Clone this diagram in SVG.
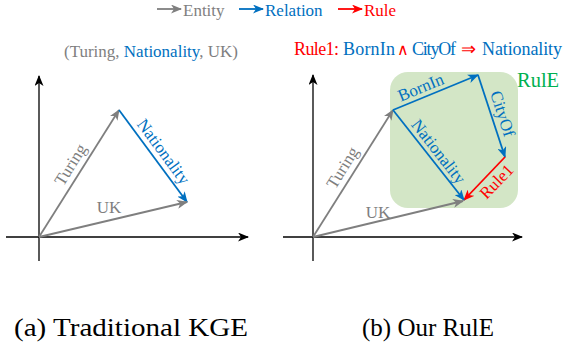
<svg xmlns="http://www.w3.org/2000/svg" width="564" height="345" viewBox="0 0 564 345">
<style>
  .t { font-family: "Liberation Serif", "Times New Roman", serif; }
  .lbl { font-family: "Liberation Serif", "Times New Roman", serif; font-size: 17px; text-anchor: middle; }
  .gray { fill: #7f7f7f; }
  .blue { fill: #0070c0; }
  .red { fill: #ff0000; }
  .axis { stroke: #000; stroke-width: 1.3; fill: none; }
  .ve { stroke: #7f7f7f; stroke-width: 1.8; fill: none; }
  .vr { stroke: #0070c0; stroke-width: 1.8; fill: none; }
  .vu { stroke: #ff0000; stroke-width: 1.8; fill: none; }
</style>
<defs>
  <marker id="ak" viewBox="0 0 11 9" refX="10" refY="4.5" markerWidth="11" markerHeight="9" markerUnits="userSpaceOnUse" orient="auto">
    <path d="M0,0 L11,4.5 L0,9 L3,4.5 Z" fill="#000"/>
  </marker>
  <marker id="ag" viewBox="0 0 11 9" refX="10" refY="4.5" markerWidth="11" markerHeight="9" markerUnits="userSpaceOnUse" orient="auto">
    <path d="M0,0 L11,4.5 L0,9 L3,4.5 Z" fill="#7f7f7f"/>
  </marker>
  <marker id="ab" viewBox="0 0 11 9" refX="10" refY="4.5" markerWidth="11" markerHeight="9" markerUnits="userSpaceOnUse" orient="auto">
    <path d="M0,0 L11,4.5 L0,9 L3,4.5 Z" fill="#0070c0"/>
  </marker>
  <marker id="ar" viewBox="0 0 11 9" refX="10" refY="4.5" markerWidth="11" markerHeight="9" markerUnits="userSpaceOnUse" orient="auto">
    <path d="M0,0 L11,4.5 L0,9 L3,4.5 Z" fill="#ff0000"/>
  </marker>
</defs>

<!-- Legend -->
<g id="legend">
  <line x1="157" y1="9" x2="181" y2="9" class="ve" marker-end="url(#ag)"/>
  <text x="183" y="16" class="t gray" font-size="17">Entity</text>
  <line x1="239" y1="9" x2="263" y2="9" class="vr" marker-end="url(#ab)"/>
  <text x="265" y="16" class="t blue" font-size="17">Relation</text>
  <line x1="338" y1="9" x2="362" y2="9" class="vu" marker-end="url(#ar)"/>
  <text x="364" y="16" class="t red" font-size="17">Rule</text>
</g>

<!-- Left panel -->
<g id="triple-title">
  <text x="64" y="57" class="t gray" font-size="17">(Turing, <tspan class="blue">Nationality</tspan>, UK)</text>
</g>
<g id="left-axes">
  <line x1="39" y1="261" x2="39" y2="76" class="axis" marker-end="url(#ak)"/>
  <line x1="6" y1="237" x2="248" y2="237" class="axis" marker-end="url(#ak)"/>
</g>
<g id="connectors-left">
  <line x1="39" y1="237" x2="119" y2="110" class="ve" marker-end="url(#ag)"/>
  <line x1="119" y1="110" x2="187" y2="202" class="vr" marker-end="url(#ab)"/>
  <line x1="39" y1="237" x2="187" y2="202" class="ve" marker-end="url(#ag)"/>
</g>
<g id="left-labels">
  <text class="lbl gray" transform="translate(71,165) rotate(-58)" y="5">Turing</text>
  <text class="lbl blue" transform="translate(163,152) rotate(53.5)" y="5">Nationality</text>
  <text class="lbl gray" x="109" y="213">UK</text>
</g>
<g id="caption-a">
  <text x="14" y="336" class="t" font-size="25" fill="#000" textLength="234" lengthAdjust="spacingAndGlyphs">(a) Traditional KGE</text>
</g>

<!-- Right panel -->
<g id="rule-title">
  <text y="55" class="t" font-size="18">
    <tspan x="294" class="red" textLength="45">Rule1:</tspan>
    <tspan x="343" class="blue" textLength="52">BornIn</tspan>
    <tspan x="397" class="red" font-size="16">∧</tspan>
    <tspan x="412" class="blue" textLength="44">CityOf</tspan>
    <tspan x="461" class="red">⇒</tspan>
    <tspan x="482" class="blue" textLength="80">Nationality</tspan>
  </text>
</g>
<g id="rule-box">
  <rect x="390" y="72" width="128" height="136" rx="18" ry="18" fill="#d3e6c6"/>
  <text x="517" y="87" class="t" font-size="20.5" fill="#00b050">RulE</text>
</g>
<g id="right-axes">
  <line x1="313" y1="261" x2="313" y2="75" class="axis" marker-end="url(#ak)"/>
  <line x1="283" y1="237" x2="522" y2="237" class="axis" marker-end="url(#ak)"/>
</g>
<g id="connectors-right">
  <line x1="313" y1="237" x2="393" y2="110" class="ve" marker-end="url(#ag)"/>
  <line x1="393" y1="110" x2="478" y2="75" class="vr" marker-end="url(#ab)"/>
  <line x1="478" y1="75" x2="505" y2="157" class="vr" marker-end="url(#ab)"/>
  <line x1="505" y1="157" x2="464" y2="200" class="vu" marker-end="url(#ar)"/>
  <line x1="393" y1="110" x2="464" y2="200" class="vr" marker-end="url(#ab)"/>
  <line x1="313" y1="237" x2="463" y2="201" class="ve" marker-end="url(#ag)"/>
</g>
<g id="right-labels">
  <text class="lbl gray" transform="translate(343,168) rotate(-58)" y="5">Turing</text>
  <text class="lbl blue" transform="translate(421,88) rotate(-22.4)" y="5">BornIn</text>
  <text class="lbl blue" transform="translate(502,114) rotate(72)" y="5">CityOf</text>
  <text class="lbl blue" transform="translate(438,152) rotate(52)" y="5">Nationality</text>
  <text class="lbl red" transform="translate(497,182) rotate(-46)" y="5">Rule1</text>
  <text class="lbl gray" x="378" y="218">UK</text>
</g>
<g id="caption-b">
  <text x="362" y="336" class="t" font-size="25" fill="#000">(b) Our RulE</text>
</g>
</svg>
